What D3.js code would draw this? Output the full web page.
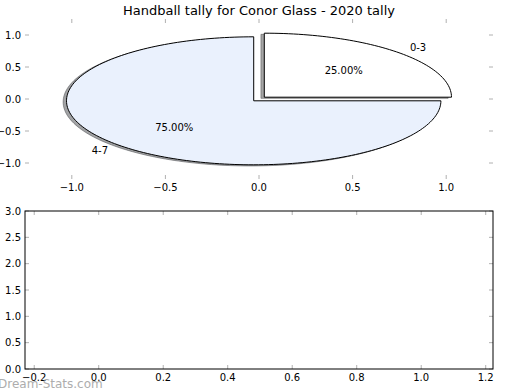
<!DOCTYPE html>
<html lang="en">
<head>
<meta charset="UTF-8" />
<title>Handball tally</title>
<script src="https://cdn.jsdelivr.net/npm/d3@7"></script>
<style>
  body { margin: 0; background: #fff; }
  text { font-family: "DejaVu Sans", sans-serif; fill: #000; }
</style>
</head>
<body>
<script>
// pie data
var sliceLabels = ["0-3", "4-7"];
var slicePercents = [25, 75];
var sliceColors = ["#ffffff", "#eaf1fd"];

// tick labels
var pieTicks = [-1.0, -0.5, 0.0, 0.5, 1.0];
var lowerXTicks = [-0.2, 0.0, 0.2, 0.4, 0.6, 0.8, 1.0, 1.2];
var lowerYTicks = [0.0, 0.5, 1.0, 1.5, 2.0, 2.5, 3.0];

var titleText = "Handball tally for Conor Glass - 2020 tally";
var explode = 0.04;
var shadowOff = 0.018;

var W = 520, H = 390;
var svg = d3.select("body").append("svg")
  .attr("width", W).attr("height", H);

var fmt = function(d) { return d3.format(".1f")(d).replace("-", "\u2212"); };

// ---- top axes (pie) ----
var xTop = d3.scaleLinear().domain([-1.25, 1.25]).range([25, 493]);
var yTop = d3.scaleLinear().domain([-1.25, 1.25]).range([179, 19]);

// gray inward ticks on all four sides, labels left and bottom
function drawTicks(g, xs, ys, xt, yt, top, bottom, left, right) {
  var tl = 4;
  xt.forEach(function(v) {
    var x = xs(v);
    g.append("line").attr("x1", x).attr("x2", x).attr("y1", bottom).attr("y2", bottom - tl)
      .attr("stroke", "#b0b0b0");
    g.append("line").attr("x1", x).attr("x2", x).attr("y1", top).attr("y2", top + tl)
      .attr("stroke", "#b0b0b0");
    g.append("text").attr("x", x).attr("y", bottom + 12)
      .attr("text-anchor", "middle").attr("font-size", 10).text(fmt(v));
  });
  yt.forEach(function(v) {
    var y = ys(v);
    g.append("line").attr("x1", left).attr("x2", left + tl).attr("y1", y).attr("y2", y)
      .attr("stroke", "#b0b0b0");
    g.append("line").attr("x1", right).attr("x2", right - tl).attr("y1", y).attr("y2", y)
      .attr("stroke", "#b0b0b0");
    g.append("text").attr("x", left - 4).attr("y", y).attr("dy", "0.35em")
      .attr("text-anchor", "end").attr("font-size", 10).text(fmt(v));
  });
}

var gTop = svg.append("g");
drawTicks(gTop, xTop, yTop, pieTicks, pieTicks, 19, 179, 25, 493);

// wedges, counterclockwise from 0 degrees
var total = d3.sum(slicePercents);
var wedges = [];
var acc = 0;
slicePercents.forEach(function(p, i) {
  var t1 = acc / total * 2 * Math.PI;
  acc += p;
  var t2 = acc / total * 2 * Math.PI;
  var tm = (t1 + t2) / 2;
  var cx = explode * Math.cos(tm), cy = explode * Math.sin(tm);
  var pts = [[cx, cy]];
  var n = Math.max(4, Math.round((t2 - t1) / (2 * Math.PI) * 240));
  for (var k = 0; k <= n; k++) {
    var a = t1 + (t2 - t1) * k / n;
    pts.push([cx + Math.cos(a), cy + Math.sin(a)]);
  }
  wedges.push({ pts: pts, tm: tm, cx: cx, cy: cy, label: sliceLabels[i], pct: p / total * 100, color: sliceColors[i] });
});

function wedgeLine(dx, dy) {
  return d3.line()
    .x(function(d) { return xTop(d[0] + dx); })
    .y(function(d) { return yTop(d[1] + dy); })
    .curve(d3.curveLinearClosed);
}

// shadows underneath everything
wedges.forEach(function(w) {
  var c = d3.rgb(w.color);
  var sc = d3.rgb(c.r * 0.3, c.g * 0.3, c.b * 0.3);
  gTop.append("path")
    .attr("d", wedgeLine(-shadowOff, -shadowOff)(w.pts))
    .attr("fill", sc).attr("stroke", sc)
    .attr("fill-opacity", 0.5).attr("stroke-opacity", 0.5);
});

wedges.forEach(function(w) {
  gTop.append("path")
    .attr("d", wedgeLine(0, 0)(w.pts))
    .attr("fill", w.color).attr("stroke", "#000").attr("stroke-width", 1);
});

wedges.forEach(function(w) {
  var lx = w.cx + 1.1 * Math.cos(w.tm), ly = w.cy + 1.1 * Math.sin(w.tm);
  gTop.append("text")
    .attr("x", xTop(lx)).attr("y", yTop(ly)).attr("dy", "0.35em")
    .attr("text-anchor", lx < 0 ? "end" : "start")
    .attr("font-size", 10).text(w.label);
  var px = w.cx + 0.6 * Math.cos(w.tm), py = w.cy + 0.6 * Math.sin(w.tm);
  gTop.append("text")
    .attr("x", xTop(px)).attr("y", yTop(py)).attr("dy", "0.35em")
    .attr("text-anchor", "middle")
    .attr("font-size", 10).text(w.pct.toFixed(2) + "%");
});

svg.append("text")
  .attr("x", 259).attr("y", 15)
  .attr("text-anchor", "middle").attr("font-size", 13)
  .text(titleText);

// ---- bottom axes (empty) ----
var xBot = d3.scaleLinear().domain([-0.2286, 1.2226]).range([25, 493]);
var yBot = d3.scaleLinear().domain([0, 3]).range([369, 211]);

var gBot = svg.append("g");
drawTicks(gBot, xBot, yBot, lowerXTicks, lowerYTicks, 211, 369, 25, 493);

gBot.append("rect")
  .attr("x", 25).attr("y", 211).attr("width", 468).attr("height", 158)
  .attr("fill", "none").attr("stroke", "#000").attr("stroke-width", 1);

// watermark
svg.append("text")
  .attr("x", -2).attr("y", 388)
  .attr("font-size", 12).style("fill", "#999")
  .attr("opacity", 0.8)
  .text("Dream-Stats.com");
</script>
</body>
</html>
